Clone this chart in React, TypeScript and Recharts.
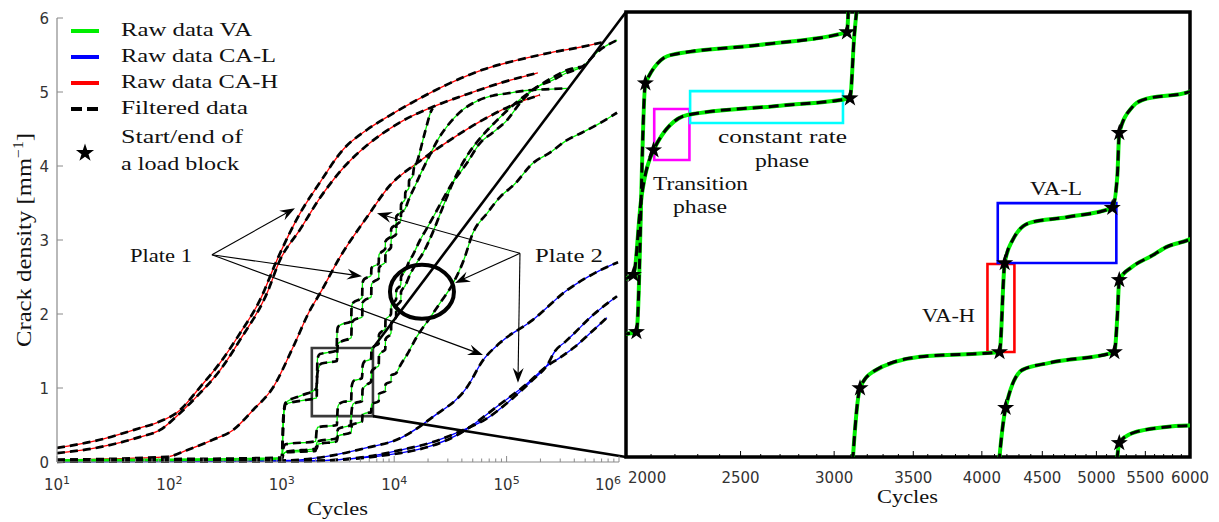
import React from 'react';
import {
  LineChart,
  ComposedChart,
  Line,
  Scatter,
  XAxis,
  YAxis,
  ReferenceArea,
  ReferenceLine,
  ReferenceDot,
} from 'recharts';

type Pt = { c: number; d: number };
const pts = (a: number[][]): Pt[] => a.map(([c, d]) => ({ c, d }));

// ---------- Raw / filtered data (cycles, crack density mm^-1) ----------
const caH1 = pts([
  [10, 0.19], [24, 0.3], [55, 0.46], [77, 0.53], [124, 0.7], [187, 1.01], [282, 1.34], [425, 1.74],
  [640, 2.19], [906, 2.73], [1452, 3.36], [2188, 3.78], [3500, 4.22], [5730, 4.49], [8600, 4.66],
  [15800, 4.89], [31400, 5.12], [61000, 5.3], [124000, 5.43], [243000, 5.53], [467000, 5.61], [700000, 5.67],
]);
const caH2 = pts([
  [10, 0.12], [24, 0.2], [55, 0.34], [82, 0.43], [124, 0.66], [187, 0.93], [282, 1.24], [425, 1.65],
  [738, 2.28], [964, 2.73], [1452, 3.14], [2188, 3.57], [3500, 3.97], [5730, 4.28], [11276, 4.59],
  [22100, 4.8], [44400, 4.97], [87340, 5.12], [190000, 5.26],
]);
const caH3 = pts([
  [10, 0.03], [95, 0.07], [143, 0.16], [243, 0.3], [367, 0.43], [553, 0.7], [838, 1.01], [1258, 1.55],
  [1780, 2.05], [2188, 2.28], [3297, 2.77], [5730, 3.31], [9187, 3.74], [16000, 4.04], [31360, 4.35],
  [61000, 4.62], [124000, 4.85], [198000, 4.96],
]);
const caL1 = pts([
  [10, 0.01], [100, 0.01], [1000, 0.02], [1452, 0.03], [2850, 0.09], [5600, 0.19], [11276, 0.32],
  [22100, 0.61], [44400, 1.01], [62000, 1.38], [87340, 1.61], [171000, 1.92], [344000, 2.32],
  [678000, 2.59], [980000, 2.7],
]);
const caL2 = pts([
  [10, 0.005], [1000, 0.01], [1452, 0.01], [5600, 0.07], [11276, 0.16], [22100, 0.27], [38000, 0.41],
  [67000, 0.59], [113000, 0.86], [171000, 1.11], [230000, 1.31], [270000, 1.5], [330000, 1.62],
  [400000, 1.74], [552000, 1.95], [960000, 2.24],
]);
const caL3 = pts([
  [10, 0.003], [1000, 0.008], [1452, 0.01], [11276, 0.12], [38000, 0.38], [87340, 0.78], [150000, 1.05],
  [230000, 1.3], [298600, 1.41], [400000, 1.55], [552000, 1.74], [780000, 1.95],
]);
const vaP = pts([
  [10, 0.02], [100, 0.03], [500, 0.04], [1000, 0.05], [1040, 0.62], [1080, 0.78], [1500, 0.83],
  [2041, 0.867], [2077, 1.398], [2181, 1.458], [2600, 1.48], [3076, 1.507], [3100, 1.72], [3150, 1.82],
  [3300, 1.85], [4140, 1.9], [4180, 2.1], [4300, 2.15], [5180, 2.22], [5228, 2.42], [5400, 2.47],
  [6230, 2.52], [6270, 2.62], [6500, 2.64], [7280, 2.68], [7320, 2.8], [7600, 2.83], [8320, 2.88],
  [8360, 2.98], [9360, 3.06], [9400, 3.15], [10400, 3.22], [10450, 3.32], [11450, 3.38], [11500, 3.48],
  [12500, 3.55], [12550, 3.64], [13500, 3.7], [13550, 3.8], [14600, 3.86], [15000, 3.98], [16000, 4.06],
  [17000, 4.2], [18000, 4.35], [19500, 4.55], [21000, 4.72], [22000, 4.78],
]);
const vaQ = pts([
  [10, 0.03], [100, 0.04], [500, 0.05], [1000, 0.06], [1030, 0.6], [1080, 0.8], [1500, 0.9],
  [2029, 0.989], [2060, 1.15], [2110, 1.255], [2254, 1.33], [2700, 1.35], [3094, 1.366], [3120, 1.5],
  [3160, 1.6], [3400, 1.63], [4150, 1.68], [4190, 1.88], [4400, 1.92], [5190, 1.96], [5230, 2.15],
  [5500, 2.19], [6240, 2.23], [6280, 2.4], [6600, 2.44], [7280, 2.48], [7320, 2.62], [7700, 2.66],
  [8330, 2.7], [8370, 2.82], [9370, 2.9], [9410, 3.02], [10400, 3.08], [10450, 3.2], [11450, 3.26],
  [11500, 3.36], [12500, 3.42], [13500, 3.55], [15000, 3.7], [17000, 3.88], [20000, 4.1], [25000, 4.38],
  [30000, 4.55], [40000, 4.75], [55000, 4.88], [75000, 4.95], [100000, 4.98], [150000, 5.02],
  [250000, 5.04], [344000, 5.05],
]);
const vaC = pts([
  [10, 0.02], [100, 0.03], [500, 0.04], [1000, 0.05], [1030, 0.18], [1080, 0.24], [2000, 0.28],
  [2040, 0.42], [2100, 0.47], [3095, 0.5], [3112, 0.6], [3155, 0.747], [3236, 0.782], [3545, 0.814],
  [4140, 0.824], [4182, 1.014], [4247, 1.063], [4389, 1.1], [4717, 1.112], [5157, 1.132], [5208, 1.2],
  [5228, 1.292], [5362, 1.347], [5467, 1.362], [6000, 1.38], [6240, 1.4], [6280, 1.52], [6600, 1.56],
  [7280, 1.6], [7320, 1.72], [7700, 1.76], [8330, 1.8], [8370, 1.92], [9370, 2.0], [9410, 2.12],
  [10400, 2.2], [10450, 2.32], [11450, 2.4], [11500, 2.5], [12500, 2.58], [13500, 2.7], [14700, 2.8],
  [17000, 3.0], [19400, 3.15], [25600, 3.48], [31360, 3.72], [44400, 4.04], [58000, 4.31], [75000, 4.45],
  [101000, 4.62], [131600, 4.85], [171000, 5.03], [257000, 5.16], [344000, 5.26], [467000, 5.34],
  [678000, 5.57], [960000, 5.7],
]);
const vaD = pts([
  [10, 0.02], [100, 0.02], [500, 0.03], [1000, 0.04], [1030, 0.1], [1080, 0.13], [2000, 0.15],
  [2040, 0.25], [2100, 0.28], [3090, 0.32], [3130, 0.42], [3200, 0.45], [4110, 0.5], [4140, 0.6],
  [4190, 0.705], [4329, 0.786], [4564, 0.801], [5178, 0.824], [5208, 0.9], [5228, 0.978], [5362, 1.006],
  [5574, 1.03], [5728, 1.048], [6000, 1.065], [6240, 1.09], [6280, 1.22], [6600, 1.26], [7280, 1.3],
  [7320, 1.44], [7700, 1.48], [8330, 1.52], [8370, 1.66], [9370, 1.74], [9410, 1.88], [10400, 1.96],
  [10450, 2.1], [11450, 2.18], [11500, 2.3], [12500, 2.38], [14000, 2.55], [16000, 2.7], [18000, 2.82],
  [22000, 3.1], [28000, 3.5], [35000, 3.85], [45000, 4.15], [60000, 4.4], [80000, 4.6], [120000, 4.85],
  [180000, 5.05], [260000, 5.2], [350000, 5.3], [467000, 5.34],
]);
const vaE = pts([
  [10, 0.01], [100, 0.02], [500, 0.03], [1000, 0.04], [1030, 0.1], [1100, 0.14], [2040, 0.18],
  [2100, 0.24], [3090, 0.28], [3150, 0.35], [4150, 0.4], [4190, 0.5], [5190, 0.55], [5208, 0.6],
  [5228, 0.63], [5362, 0.651], [5728, 0.664], [6240, 0.67], [6280, 0.78], [7280, 0.82], [7320, 0.92],
  [8330, 0.96], [8370, 1.05], [9370, 1.09], [9410, 1.17], [10400, 1.2], [11276, 1.3], [13000, 1.45],
  [16000, 1.7], [20855, 1.95], [25600, 2.15], [33000, 2.4], [41600, 2.73], [50000, 3.09], [67000, 3.36],
  [87340, 3.58], [117000, 3.75], [172000, 4.04], [243000, 4.18], [344000, 4.35], [467000, 4.45],
  [678000, 4.58], [960000, 4.72],
]);
// start / end of load blocks (inset)
const blockStars = pts([
  [2041, 0.867], [2029, 0.989], [2077, 1.398], [2110, 1.255], [3076, 1.507], [3094, 1.366],
  [3155, 0.747], [4140, 0.824], [4182, 1.014], [5157, 1.132], [5228, 1.292], [4190, 0.705],
  [5178, 0.824], [5228, 0.978], [5228, 0.63],
]);

const caHSeries = [caH1, caH2, caH3];
const caLSeries = [caL1, caL2, caL3];
const vaSeries = [vaP, vaQ, vaC, vaD, vaE];

// ---------- ticks ----------
const leftMajorTicks = [10, 100, 1000, 10000, 100000, 1000000];
const leftMinorTicks = [
  20, 30, 40, 50, 60, 70, 80, 90, 200, 300, 400, 500, 600, 700, 800, 900,
  2000, 3000, 4000, 5000, 6000, 7000, 8000, 9000, 20000, 30000, 40000, 50000, 60000, 70000, 80000, 90000,
  200000, 300000, 400000, 500000, 600000, 700000, 800000, 900000,
];
const leftTicks = [...leftMajorTicks, ...leftMinorTicks].sort((a, b) => a - b);
const yTicks = [0, 1, 2, 3, 4, 5, 6];
const insetMajorTicks = [2000, 2500, 3000, 3500, 4000, 4500, 5000, 5500, 6000];
const insetMinorTicks = [
  2100, 2200, 2300, 2400, 2600, 2700, 2800, 2900, 3100, 3200, 3300, 3400, 3600, 3700, 3800, 3900,
  4100, 4200, 4300, 4400, 4600, 4700, 4800, 4900, 5100, 5200, 5300, 5400, 5600, 5700, 5800, 5900,
];
const insetTicks = [...insetMajorTicks, ...insetMinorTicks].sort((a, b) => a - b);

// ---------- annotations (data coordinates) ----------
const zoomBox = { c1: 1850, c2: 6470, d1: 0.62, d2: 1.54 };
const zoomCircle = { c: 17660, d: 2.3 };
const connectors = [
  [{ x: 6470, y: 1.54 }, { x: 1153000, y: 6.08 }],
  [{ x: 6470, y: 0.62 }, { x: 1153000, y: 0.068 }],
];
const plate1Tail = { x: 239, y: 2.8 };
const plate1Tips = [{ x: 1309, y: 3.43 }, { x: 5170, y: 2.51 }, { x: 61660, y: 1.446 }];
const plate2Tail = { x: 131500, y: 2.82 };
const plate2Tips = [{ x: 7030, y: 3.36 }, { x: 34800, y: 2.42 }, { x: 126200, y: 1.07 }];
const phaseBoxes = [
  { c1: 2113, c2: 2263, d1: 1.234, d2: 1.343, color: '#ff00ff' },
  { c1: 2266, c2: 3052, d1: 1.313, d2: 1.381, color: '#00ffff' },
  { c1: 4044, c2: 4262, d1: 0.824, d2: 1.012, color: '#ff0000' },
  { c1: 4126, c2: 5198, d1: 1.014, d2: 1.142, color: '#0000ff' },
];

const SANS = "'DejaVu Sans', sans-serif";
const SERIF = "'Liberation Serif', 'Times New Roman', serif";
const AXIS_GRAY = '#8a8a8a';

function starPath(cx: number, cy: number, R: number, r: number) {
  let d = '';
  for (let i = 0; i < 10; i++) {
    const rad = i % 2 === 0 ? R : r;
    const a = -Math.PI / 2 + (i * Math.PI) / 5;
    d += (i === 0 ? 'M' : 'L') + (cx + rad * Math.cos(a)).toFixed(2) + ',' + (cy + rad * Math.sin(a)).toFixed(2);
  }
  return d + 'Z';
}

const LeftXTick = (props: any) => {
  const { x, y, payload } = props;
  const v = payload.value;
  const major = leftMajorTicks.includes(v);
  const exp = Math.round(Math.log10(v));
  const last = v === 1000000;
  return (
    <g>
      <line x1={x} x2={x} y1={y} y2={y - (major ? 6 : 3.5)} stroke={AXIS_GRAY} strokeWidth={1} />
      {major && (
        <text
          x={last ? x + 2 : x}
          y={y + 28}
          textAnchor={last ? 'end' : 'middle'}
          fill="#333"
          fontFamily={SANS}
          fontSize={15}
        >
          10<tspan dy={-6} fontSize={11}>{exp}</tspan>
        </text>
      )}
    </g>
  );
};

const LeftYTick = (props: any) => {
  const { x, y, payload } = props;
  return (
    <g>
      <line x1={x} x2={x + 6} y1={y} y2={y} stroke={AXIS_GRAY} strokeWidth={1} />
      <text x={x - 8} y={y + 5.5} textAnchor="end" fill="#333" fontFamily={SANS} fontSize={15}>
        {payload.value}
      </text>
    </g>
  );
};

const InsetXTick = (props: any) => {
  const { x, y, payload } = props;
  const v = payload.value;
  const major = insetMajorTicks.includes(v);
  return (
    <g>
      <line x1={x} x2={x} y1={y} y2={y - (major ? 6 : 3)} stroke="#000" strokeWidth={1} />
      {major && (
        <text
          x={v === 2000 ? x + 2 : x}
          y={y + 26}
          textAnchor={v === 2000 ? 'start' : 'middle'}
          fill="#333"
          fontFamily={SANS}
          fontSize={15}
        >
          {v}
        </text>
      )}
    </g>
  );
};

const ArrowShape = (props: any) => {
  const { x1, y1, x2, y2 } = props;
  const ang = Math.atan2(y2 - y1, x2 - x1);
  const L = 15;
  const W = 5.5;
  const ca = Math.cos(ang);
  const sa = Math.sin(ang);
  const bx = x2 - L * ca;
  const by = y2 - L * sa;
  const mx = x2 - L * 0.65 * ca;
  const my = y2 - L * 0.65 * sa;
  const nx = -sa;
  const ny = ca;
  return (
    <g>
      <line x1={x1} y1={y1} x2={mx} y2={my} stroke="#000" strokeWidth={1.1} />
      <path
        d={`M${x2},${y2} L${bx + nx * W},${by + ny * W} L${mx},${my} L${bx - nx * W},${by - ny * W} Z`}
        fill="#000"
      />
    </g>
  );
};

const ConnectorShape = (props: any) => {
  const { x1, y1, x2, y2 } = props;
  return <line x1={x1} y1={y1} x2={x2} y2={y2} stroke="#000" strokeWidth={2.6} />;
};

const EllipseShape = (props: any) => {
  const { cx, cy } = props;
  return <ellipse cx={cx} cy={cy} rx={32} ry={27} fill="none" stroke="#000" strokeWidth={4} />;
};

const StarShape = (props: any) => {
  const { cx, cy } = props;
  return <path d={starPath(cx, cy, 9, 3.5)} fill="#000" />;
};

const rawLeft: { data: Pt[]; color: string }[] = [
  ...caHSeries.map((d) => ({ data: d, color: '#ff0000' })),
  ...caLSeries.map((d) => ({ data: d, color: '#0000ff' })),
  ...vaSeries.map((d) => ({ data: d, color: '#00ee00' })),
];

export default function App() {
  return (
    <div style={{ position: 'relative', width: 1219, height: 522, background: '#fff' }}>
      <style>{'body{margin:0;background:#fff}'}</style>

      {/* Left: full log-scale chart */}
      <div style={{ position: 'absolute', left: 0, top: 0 }}>
        <LineChart width={640} height={522} margin={{ top: 18, right: 21, bottom: 0, left: 0 }}>
          <XAxis
            dataKey="c"
            type="number"
            scale="log"
            domain={[10, 1000000]}
            allowDataOverflow
            ticks={leftTicks}
            interval={0}
            tick={<LeftXTick />}
            tickLine={false}
            tickSize={0}
            tickMargin={0}
            height={60}
            axisLine={{ stroke: AXIS_GRAY, strokeWidth: 1.2 }}
          />
          <YAxis
            type="number"
            domain={[0, 6]}
            ticks={yTicks}
            interval={0}
            tick={<LeftYTick />}
            tickLine={false}
            tickSize={0}
            tickMargin={0}
            width={57}
            axisLine={{ stroke: AXIS_GRAY, strokeWidth: 1.2 }}
          />
          {rawLeft.map((s, i) => (
            <Line
              key={'raw' + i}
              data={s.data}
              dataKey="d"
              type="monotoneX"
              stroke={s.color}
              strokeWidth={1.3}
              dot={false}
              activeDot={false}
              isAnimationActive={false}
            />
          ))}
          {rawLeft.map((s, i) => (
            <Line
              key={'flt' + i}
              data={s.data}
              dataKey="d"
              type="monotoneX"
              stroke="#000"
              strokeWidth={2.7}
              strokeDasharray="8 5"
              dot={false}
              activeDot={false}
              isAnimationActive={false}
            />
          ))}
          <ReferenceArea
            x1={zoomBox.c1}
            x2={zoomBox.c2}
            y1={zoomBox.d1}
            y2={zoomBox.d2}
            fill="none"
            fillOpacity={0}
            stroke="#3a3a3a"
            strokeWidth={2.6}
            ifOverflow="visible"
          />
          <ReferenceDot x={zoomCircle.c} y={zoomCircle.d} r={30} shape={EllipseShape} ifOverflow="visible" />
          {connectors.map((seg, i) => (
            <ReferenceLine key={'con' + i} segment={seg} ifOverflow="visible" shape={ConnectorShape} />
          ))}
          {plate1Tips.map((tip, i) => (
            <ReferenceLine key={'p1' + i} segment={[plate1Tail, tip]} ifOverflow="visible" shape={ArrowShape} />
          ))}
          {plate2Tips.map((tip, i) => (
            <ReferenceLine key={'p2' + i} segment={[plate2Tail, tip]} ifOverflow="visible" shape={ArrowShape} />
          ))}
        </LineChart>
      </div>

      {/* Right: zoomed inset */}
      <div style={{ position: 'absolute', left: 0, top: 0 }}>
        <ComposedChart width={1219} height={522} margin={{ top: 12, right: 29, bottom: 0, left: 626 }}>
          <XAxis
            dataKey="c"
            type="number"
            scale="log"
            domain={[2000, 6000]}
            allowDataOverflow
            ticks={insetTicks}
            interval={0}
            tick={<InsetXTick />}
            tickLine={false}
            tickSize={0}
            tickMargin={0}
            height={65}
            axisLine={false}
          />
          <YAxis dataKey="d" type="number" domain={[0.6, 1.55]} allowDataOverflow hide width={0} />
          {vaSeries.map((s, i) => (
            <Line
              key={'iraw' + i}
              data={s}
              dataKey="d"
              type="monotoneX"
              stroke="#00ee00"
              strokeWidth={4}
              dot={false}
              activeDot={false}
              isAnimationActive={false}
            />
          ))}
          {vaSeries.map((s, i) => (
            <Line
              key={'iflt' + i}
              data={s}
              dataKey="d"
              type="monotoneX"
              stroke="#000"
              strokeWidth={3}
              strokeDasharray="10 6"
              dot={false}
              activeDot={false}
              isAnimationActive={false}
            />
          ))}
          {phaseBoxes.map((b, i) => (
            <ReferenceArea
              key={'pb' + i}
              x1={b.c1}
              x2={b.c2}
              y1={b.d1}
              y2={b.d2}
              fill="none"
              fillOpacity={0}
              stroke={b.color}
              strokeWidth={2.6}
              ifOverflow="visible"
            />
          ))}
          <Scatter data={blockStars} dataKey="d" shape={StarShape} isAnimationActive={false} />
          <ReferenceArea
            x1={2000}
            x2={6000}
            y1={0.6}
            y2={1.55}
            fill="none"
            fillOpacity={0}
            stroke="#000"
            strokeWidth={3.5}
            ifOverflow="visible"
          />
        </ComposedChart>
      </div>

      {/* Legend and text annotations */}
      <svg
        width={1219}
        height={522}
        style={{ position: 'absolute', left: 0, top: 0, pointerEvents: 'none' }}
        fontFamily={SERIF}
        fill="#111"
      >
        <line x1={71} x2={99} y1={31} y2={31} stroke="#00ee00" strokeWidth={4} />
        <line x1={71} x2={99} y1={57} y2={57} stroke="#0000ff" strokeWidth={4} />
        <line x1={71} x2={99} y1={83} y2={83} stroke="#ff0000" strokeWidth={4} />
        <line x1={71} x2={99} y1={109} y2={109} stroke="#000" strokeWidth={4} strokeDasharray="11 5" />
        <path d={starPath(85, 153, 9.5, 3.7)} fill="#000" />
        <text x={121} y={36} fontSize={18} textLength={131} lengthAdjust="spacingAndGlyphs">Raw data VA</text>
        <text x={121} y={62} fontSize={18} textLength={155} lengthAdjust="spacingAndGlyphs">Raw data CA-L</text>
        <text x={121} y={88} fontSize={18} textLength={157} lengthAdjust="spacingAndGlyphs">Raw data CA-H</text>
        <text x={121} y={114} fontSize={18} textLength={127} lengthAdjust="spacingAndGlyphs">Filtered data</text>
        <text x={121} y={143} fontSize={18} textLength={122} lengthAdjust="spacingAndGlyphs">Start/end of</text>
        <text x={121} y={170} fontSize={18} textLength={118} lengthAdjust="spacingAndGlyphs">a load block</text>

        <text x={130} y={262} fontSize={18} textLength={62} lengthAdjust="spacingAndGlyphs">Plate 1</text>
        <text x={535} y={262} fontSize={18} textLength={68} lengthAdjust="spacingAndGlyphs">Plate 2</text>

        <text x={307} y={515} fontSize={19} textLength={61} lengthAdjust="spacingAndGlyphs">Cycles</text>
        <text x={877} y={503} fontSize={19} textLength={61} lengthAdjust="spacingAndGlyphs">Cycles</text>
        <text
          x={31}
          y={240}
          fontSize={22}
          textAnchor="middle"
          transform="rotate(-90 31 240)"
          textLength={214}
          lengthAdjust="spacingAndGlyphs"
        >
          Crack density [mm<tspan dy={-8} fontSize={14}>−1</tspan><tspan dy={8}>]</tspan>
        </text>

        <text x={718} y={143} fontSize={18} textLength={129} lengthAdjust="spacingAndGlyphs">constant rate</text>
        <text x={755} y={167} fontSize={18} textLength={54} lengthAdjust="spacingAndGlyphs">phase</text>
        <text x={653} y={190} fontSize={18} textLength={95} lengthAdjust="spacingAndGlyphs">Transition</text>
        <text x={673} y={213} fontSize={18} textLength={54} lengthAdjust="spacingAndGlyphs">phase</text>
        <text x={1030} y={195} fontSize={18} textLength={52} lengthAdjust="spacingAndGlyphs">VA-L</text>
        <text x={922} y={322} fontSize={18} textLength={53} lengthAdjust="spacingAndGlyphs">VA-H</text>
      </svg>
    </div>
  );
}
